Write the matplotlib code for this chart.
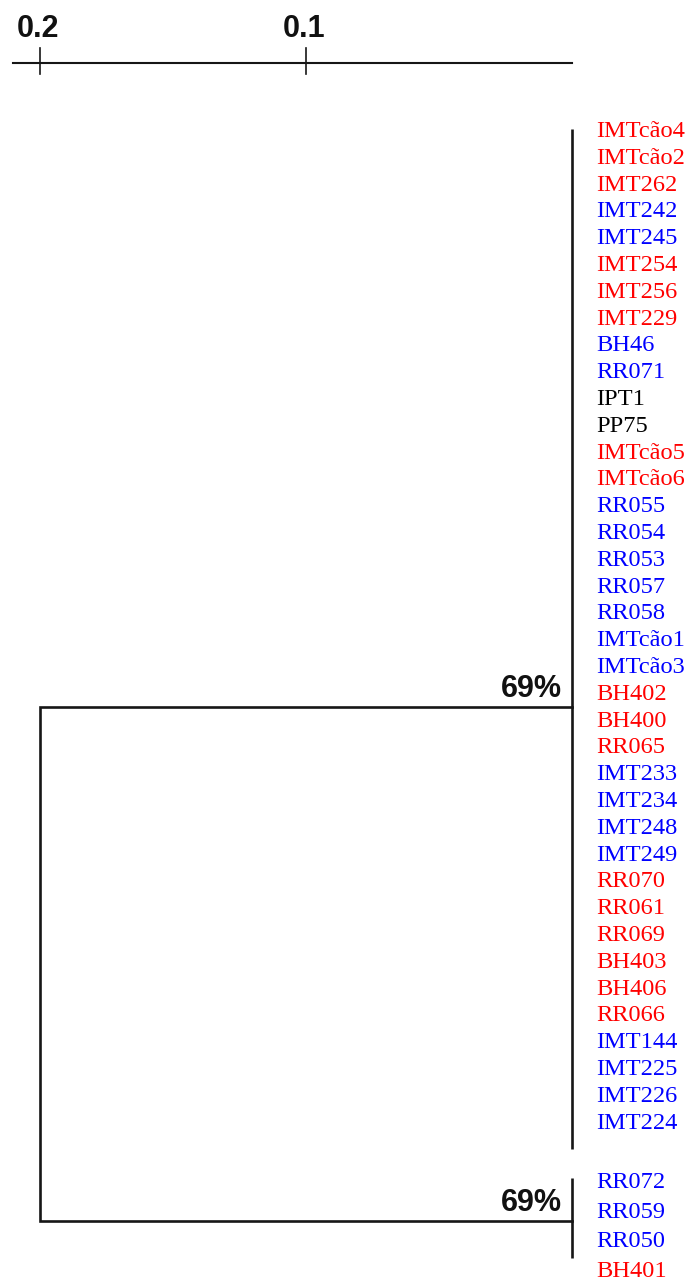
import matplotlib
matplotlib.use("Agg")
import matplotlib.pyplot as plt

# leaves of the two clusters (top to bottom)
top_labels = [
  "IMTcão4", "IMTcão2", "IMT262", "IMT242", "IMT245", "IMT254", "IMT256", "IMT229",
  "BH46", "RR071", "IPT1", "PP75", "IMTcão5", "IMTcão6", "RR055", "RR054", "RR053",
  "RR057", "RR058", "IMTcão1", "IMTcão3", "BH402", "BH400", "RR065", "IMT233",
  "IMT234", "IMT248", "IMT249", "RR070", "RR061", "RR069", "BH403", "BH406",
  "RR066", "IMT144", "IMT225", "IMT226", "IMT224"
]
top_groups = [
  "r", "r", "r", "b", "b", "r", "r", "r",
  "b", "b", "k", "k", "r", "r", "b", "b", "b",
  "b", "b", "b", "b", "r", "r", "r", "b",
  "b", "b", "b", "r", "r", "r", "r", "r",
  "r", "b", "b", "b", "b"
]
bottom_labels = ["RR072", "RR059", "RR050", "BH401"]
bottom_groups = ["b", "b", "b", "r"]

root_height = 0.2       # distance at which the two clusters join
cluster_height = 0.0    # both clusters collapse at zero
support = ["69%", "69%"]
scale_ticks = [0.2, 0.1]
scale_labels = ["0.2", "0.1"]
scale_range = (0.2102, 0.0)

COLORS = {"r": "#ff0000", "b": "#0000ff", "k": "#000000"}

# layout (rows are leaf slots)
ROW_PX = 26.8
BOTTOM_START = 39.22
BOTTOM_STEP = 1.105
TOP_SPAN = (0.0, 38.05)
BOTTOM_SPAN = (39.15, 42.12)
TOP_JOIN = 21.57
BOTTOM_JOIN = 40.75
SCALE_ROW = -2.46

LINE_C = "#161616"
SERIF = ["Liberation Serif", "DejaVu Serif"]
BOLD = ["Liberation Sans Narrow", "Liberation Sans", "DejaVu Sans"]


def main():
  fig = plt.figure(figsize=(6.92, 12.82), dpi=100, facecolor="w")
  ax = fig.add_axes([0, 0, 1, 1])
  # 0.1 distance units = 266 px, zero at x=572 px
  ax.set_xlim(572 / 2660.0, -120 / 2660.0)
  ax.set_ylim(43.02, -129 / ROW_PX)
  ax.axis("off")

  top_rows = list(range(len(top_labels)))
  bottom_rows = [BOTTOM_START + BOTTOM_STEP * i for i in range(len(bottom_labels))]

  # cluster vertical bars
  ax.plot([cluster_height, cluster_height], TOP_SPAN, color=LINE_C, lw=1.9, solid_capstyle="butt")
  ax.plot([cluster_height, cluster_height], BOTTOM_SPAN, color=LINE_C, lw=1.9, solid_capstyle="butt")
  # branches to the root
  ax.plot([cluster_height, root_height, root_height, cluster_height],
          [TOP_JOIN, TOP_JOIN, BOTTOM_JOIN, BOTTOM_JOIN],
          color=LINE_C, lw=1.9, solid_joinstyle="miter")

  for join, s in zip([TOP_JOIN, BOTTOM_JOIN], support):
    ax.annotate(s, xy=(cluster_height, join), xytext=(-10, 10), textcoords="offset pixels",
                ha="right", va="baseline", fontsize=22, fontweight="bold", family=BOLD, color="#111")

  for rows, labels, groups in [(top_rows, top_labels, top_groups),
                               (bottom_rows, bottom_labels, bottom_groups)]:
    for r, lab, g in zip(rows, labels, groups):
      ax.annotate(lab, xy=(cluster_height, r), xytext=(24, -8), textcoords="offset pixels",
                  ha="left", va="baseline", fontsize=17.6, family=SERIF, color=COLORS[g])

  # distance scale
  ax.plot(scale_range, [SCALE_ROW, SCALE_ROW], color=LINE_C, lw=1.5)
  for t, lab in zip(scale_ticks, scale_labels):
    ax.plot([t, t], [SCALE_ROW - 0.56, SCALE_ROW + 0.41], color=LINE_C, lw=1.2)
    ax.annotate(lab, xy=(t, SCALE_ROW), xytext=(-2, 26), textcoords="offset pixels",
                ha="center", va="baseline", fontsize=22, fontweight="bold", family=BOLD, color="#111")

  fig.savefig("out.png", dpi=100, facecolor="w")
  plt.close()


if __name__ == "__main__":
  main()
